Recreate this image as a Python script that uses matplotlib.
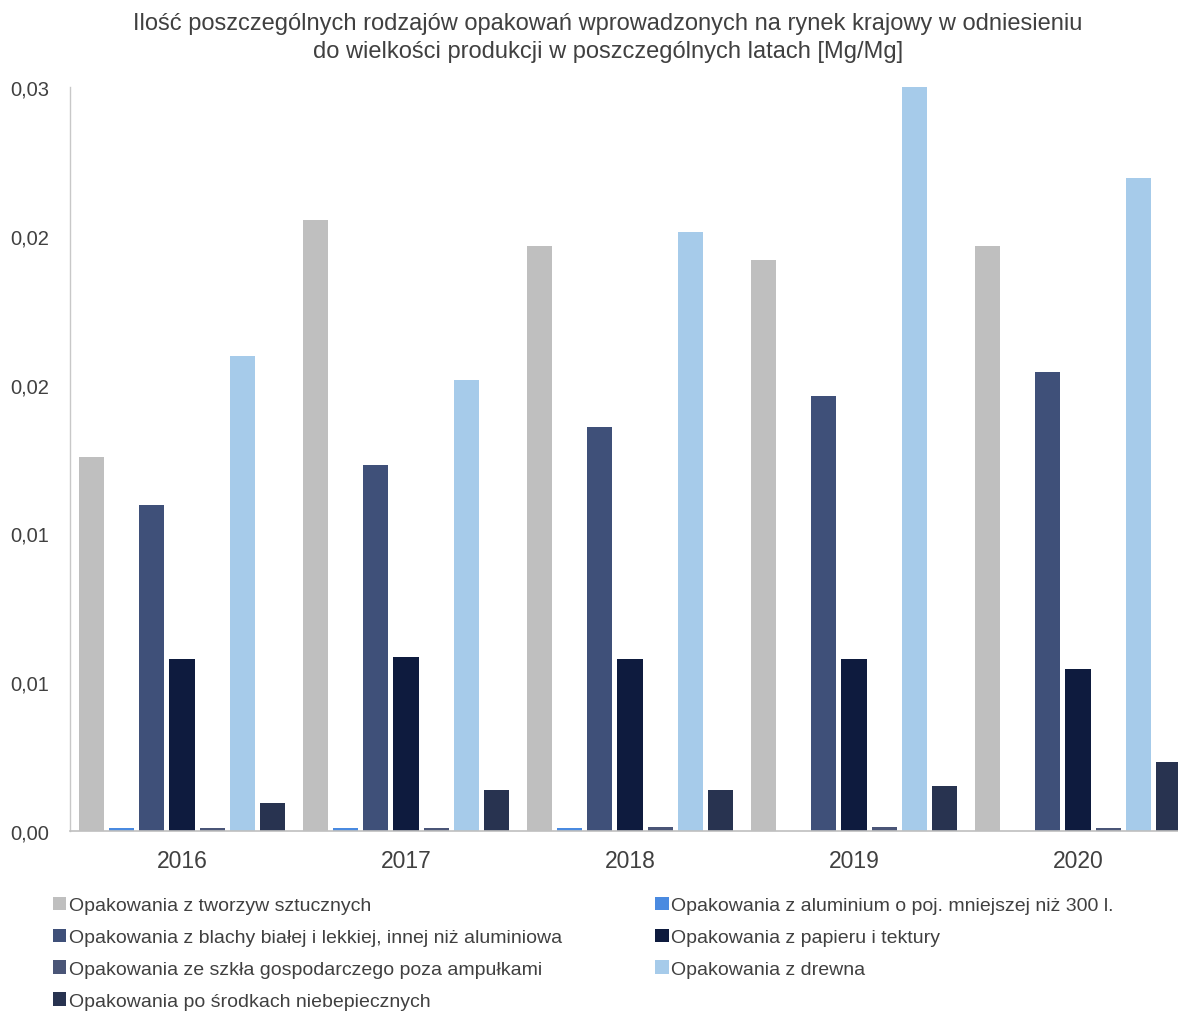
import matplotlib
matplotlib.use("Agg")
import matplotlib.pyplot as plt
import numpy as np

plt.rcParams['font.family'] = ['Liberation Sans', 'DejaVu Sans']

years = ['2016', '2017', '2018', '2019', '2020']
series_names = [
    'Opakowania z tworzyw sztucznych',
    'Opakowania z aluminium o poj. mniejszej niż 300 l.',
    'Opakowania z blachy białej i lekkiej, innej niż aluminiowa',
    'Opakowania z papieru i tektury',
    'Opakowania ze szkła gospodarczego poza ampułkami',
    'Opakowania z drewna',
    'Opakowania po środkach niebepiecznych',
]
tworzywa = [0.01257, 0.02053, 0.01966, 0.01919, 0.01966]
aluminium = [0.0001, 0.0001, 0.0001, 0.0, 0.0]
blacha = [0.01095, 0.01230, 0.01358, 0.01462, 0.01542]
papier = [0.00578, 0.00585, 0.00578, 0.00578, 0.00544]
szklo = [0.0001, 0.0001, 0.00013, 0.00013, 0.00009]
drewno = [0.01596, 0.01515, 0.02013, 0.02500, 0.02194]
niebezpieczne = [0.00094, 0.00138, 0.00138, 0.00151, 0.00232]
y_ticks = [0.0, 0.005, 0.01, 0.015, 0.02, 0.025]
y_ticklabels = ['0,00', '0,01', '0,01', '0,02', '0,02', '0,03']

series = [tworzywa, aluminium, blacha, papier, szklo, drewno, niebezpieczne]
colors = ['#BFBFBF', '#4A8AE0', '#3F5079', '#0E1B3E', '#4A5577', '#A6CBEA', '#283350']

fig = plt.figure(figsize=(11.78, 10.12), dpi=100)
ax = fig.add_axes([70/1178, (1012-832)/1012, 1120/1178, 744/1012])

x = np.arange(len(years))
pitch = 0.1353
width = 0.112
handles = []
for i, (vals, c) in enumerate(zip(series, colors)):
    off = (i - 3) * pitch
    b = ax.bar(x + off, vals, width=width, color=c, edgecolor='none', linewidth=0,
               label=series_names[i])
    handles.append(b)

ax.set_xlim(-0.5, 4.5)
ax.set_ylim(0, 0.025)
ax.set_yticks(y_ticks)
ax.set_yticklabels(y_ticklabels)
ax.set_xticks(x)
ax.set_xticklabels(years)
ax.tick_params(axis='y', length=0, pad=15, labelsize=14.5, labelcolor='#404040')
ax.tick_params(axis='x', length=0, pad=13, labelsize=16.5, labelcolor='#404040')
for s in ['top', 'right']:
    ax.spines[s].set_visible(False)
ax.spines['left'].set_color('#C8C8C8')
ax.spines['bottom'].set_color('#BFBFBF')
ax.spines['left'].set_linewidth(1.0)
ax.spines['bottom'].set_linewidth(1.2)

fig.suptitle('Ilość poszczególnych rodzajów opakowań wprowadzonych na rynek krajowy w odniesieniu\n'
             'do wielkości produkcji w poszczególnych latach [Mg/Mg]',
             x=608/1178, y=1-13/1012, va='top', fontsize=17, color='#404040', linespacing=1.35)

order = [0, 2, 4, 6, 1, 3, 5]
leg = fig.legend([handles[i] for i in order], [series_names[i] for i in order],
                 ncol=2, loc='upper left', bbox_to_anchor=(47/1178, 1-892/1012),
                 frameon=False, fontsize=14, handlelength=0.7, handleheight=0.7,
                 handletextpad=0.12, columnspacing=4.8, labelspacing=0.73,
                 borderaxespad=0, borderpad=0.3, labelcolor='#404040')

fig.savefig('out.png', dpi=100)
